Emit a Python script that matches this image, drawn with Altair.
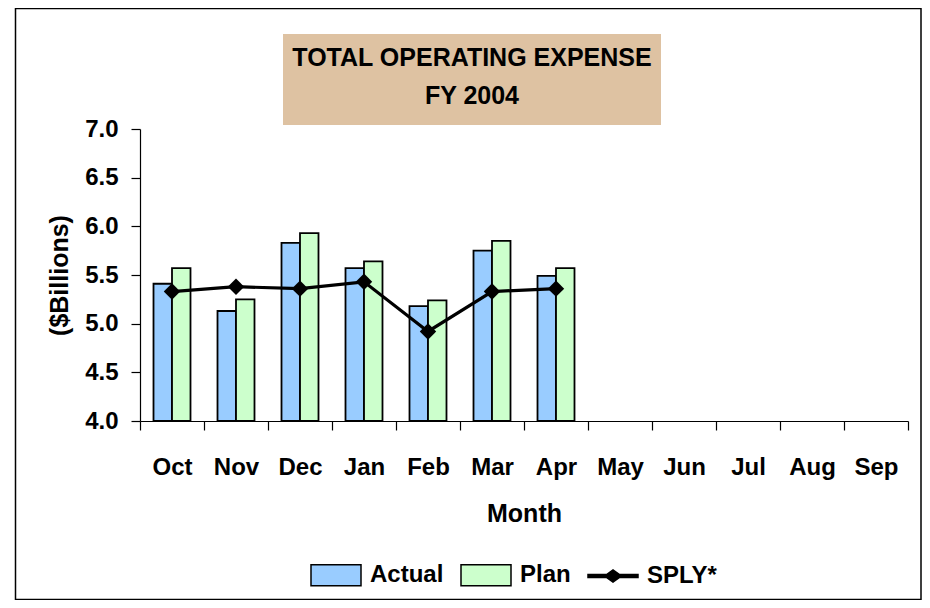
import altair as alt
import pandas as pd

MONTHS = ["Oct", "Nov", "Dec", "Jan", "Feb", "Mar", "Apr", "May", "Jun", "Jul", "Aug", "Sep"]
DATA_MONTHS = ["Oct", "Nov", "Dec", "Jan", "Feb", "Mar", "Apr"]
ACTUAL = [5.41, 5.13, 5.83, 5.57, 5.18, 5.75, 5.49]
PLAN = [5.57, 5.25, 5.93, 5.64, 5.24, 5.85, 5.57]
SPLY = [5.33, 5.38, 5.36, 5.43, 4.92, 5.33, 5.36]
SERIES = ["Actual", "Plan", "SPLY*"]
COLORS = ["#99CCFF", "#CCFFCC", "#000000"]
OUTLINES = ["#000000", "#000000", "#000000"]
Y_TICKS = [4.0, 4.5, 5.0, 5.5, 6.0, 6.5, 7.0]
TITLE_LINES = ["TOTAL OPERATING EXPENSE", "FY 2004"]

FONT = "Liberation Sans"

rows = []
for m, a, p, s in zip(DATA_MONTHS, ACTUAL, PLAN, SPLY):
    rows.append({"month": m, "series": "Actual", "value": a})
    rows.append({"month": m, "series": "Plan", "value": p})
    rows.append({"month": m, "series": "SPLY*", "value": s})
df = pd.DataFrame(rows)

x_enc = alt.X(
    "month:N",
    sort=MONTHS,
    scale=alt.Scale(domain=MONTHS, paddingInner=0, paddingOuter=0),
    axis=alt.Axis(
        title="Month",
        labelAngle=0,
        tickBand="extent",
        tickSize=9,
        labelPadding=25,
        titlePadding=22,
    ),
)
y_scale = alt.Scale(domain=[4.0, 7.0], zero=False, nice=False)
y_axis = alt.Axis(
    title="($Billions)",
    values=Y_TICKS,
    format=".1f",
    tickSize=9,
    labelPadding=13,
    titlePadding=12,
    grid=False,
)

bars = (
    alt.Chart(df)
    .transform_filter(alt.FieldOneOfPredicate(field="series", oneOf=["Actual", "Plan"]))
    .mark_bar(stroke="black", strokeWidth=1.8, opacity=1)
    .encode(
        x=x_enc,
        xOffset=alt.XOffset(
            "series:N",
            scale=alt.Scale(domain=["Actual", "Plan"], paddingInner=0, paddingOuter=0.73),
        ),
        y=alt.Y("value:Q", scale=y_scale, axis=y_axis),
        y2=alt.datum(4.0),
        color=alt.Color(
            "series:N",
            scale=alt.Scale(domain=["Actual", "Plan"], range=COLORS[:2]),
            legend=None,
        ),
    )
)

sply_base = alt.Chart(df).transform_filter(alt.FieldEqualPredicate(field="series", equal="SPLY*"))
line = sply_base.mark_line(color="black", strokeWidth=3.2, opacity=1).encode(
    x=x_enc, y=alt.Y("value:Q", scale=y_scale, axis=y_axis)
)
points = sply_base.mark_point(
    shape="diamond", filled=True, size=270, color="black", opacity=1
).encode(x=x_enc, y=alt.Y("value:Q", scale=y_scale, axis=y_axis))

one = alt.Data(values=[{"k": 1}])
title_box = alt.Chart(one).mark_rect(fill="#DEC2A2", opacity=1).encode(
    x=alt.value(143), x2=alt.value(521), y=alt.value(-95), y2=alt.value(-4)
)
title_text = alt.Chart(one).mark_text(
    text=TITLE_LINES,
    font=FONT,
    fontSize=25,
    fontWeight="bold",
    color="black",
    align="center",
    baseline="middle",
    lineHeight=38,
).encode(x=alt.value(332), y=alt.value(-71))

border = alt.Chart(one).mark_rect(filled=False, stroke="black", strokeWidth=1.5, opacity=1).encode(
    x=alt.value(-124.5), x2=alt.value(781), y=alt.value(-120.5), y2=alt.value(470.5)
)

RECT_PATH = "M-1,-0.42H1V0.42H-1Z"
LINE_PATH = "M-1,-0.06H1V0.06H-1ZM-0.34,0L0,-0.24L0.34,0L0,0.24Z"
leg = alt.Legend(
    title=None,
    orient="none",
    direction="horizontal",
    legendX=170,
    legendY=420,
    labelFont=FONT,
    labelFontSize=24,
    labelFontWeight="bold",
    labelColor="black",
    labelOffset=8,
    columnPadding=14,
    symbolStrokeColor="black",
    symbolStrokeWidth=1.5,
    symbolSize=2500,
    symbolOpacity=1,
    labelLimit=300,
)
legend_layer = (
    alt.Chart(df)
    .transform_filter("false")
    .mark_point(filled=True, size=2500, opacity=1, strokeWidth=1.5)
    .encode(
        fill=alt.Fill("series:N", scale=alt.Scale(domain=SERIES, range=COLORS), legend=leg),
        stroke=alt.Stroke("series:N", scale=alt.Scale(domain=SERIES, range=OUTLINES), legend=leg),
        shape=alt.Shape(
            "series:N",
            scale=alt.Scale(domain=SERIES, range=[RECT_PATH, RECT_PATH, LINE_PATH]),
            legend=leg,
        ),
    )
)

chart = (
    alt.layer(title_box, title_text, bars, line, points, border, legend_layer)
    .properties(
        width=768,
        height=292,
        padding={"left": 132, "top": 121, "right": 14, "bottom": 179},
        autosize=alt.AutoSizeParams(type="none"),
        background="white",
    )
    .configure_view(strokeWidth=0)
    .configure_axis(
        domainColor="black",
        domainWidth=1.2,
        tickColor="black",
        tickWidth=1.2,
        labelFont=FONT,
        labelFontSize=24,
        labelFontWeight="bold",
        labelColor="black",
        titleFont=FONT,
        titleFontSize=25,
        titleFontWeight="bold",
        titleColor="black",
    )
)

chart.save("out.html", embed_options={"renderer": "svg", "actions": False})
